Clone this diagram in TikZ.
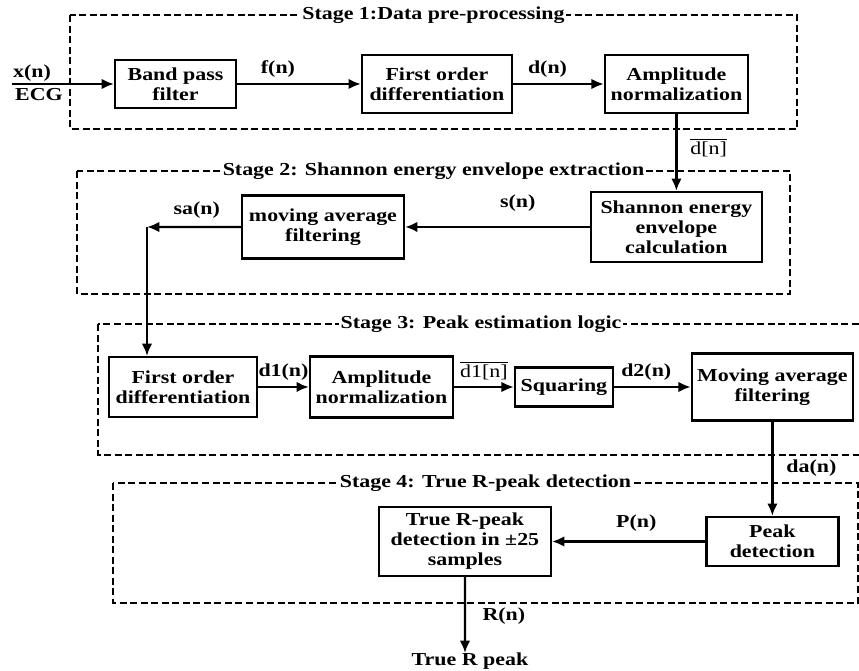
\documentclass[tikz,border=0pt]{standalone}
\usepackage{amsmath}
\usepackage{fontspec}
\setmainfont{Liberation Serif}[FakeStretch=1.2]
\usepackage{tikz}
\usetikzlibrary{arrows.meta,positioning}

\begin{document}
\begin{tikzpicture}[x=0.02cm,y=-0.02cm,>={Latex[length=7pt,width=6pt]},line width=1.3pt,on grid,
  every node/.style={font=\fontsize{10.4}{11.4}\selectfont\bfseries},
  block/.style={draw,align=center,inner sep=1pt},
  stage/.style={line width=1pt,dash pattern=on 4pt off 2pt},
  stagelbl/.style={fill=white,inner sep=1pt}]
  \useasboundingbox (0,0) rectangle (859,671);

  \draw[stage] (70,15) rectangle (797,129);
  \draw[stage] (77,171) rectangle (790,294);
  \draw[stage] (98,324) rectangle (864,455);
  \draw[stage] (113,483) rectangle (858,603);
  \node[stagelbl] (s1) at (433.5,15)  {Stage 1:Data pre-processing};
  \node[stagelbl] (s2) at (433.5,171) {Stage 2: Shannon energy envelope extraction};
  \node[stagelbl] (s3) at (481,324)   {Stage 3: Peak estimation logic};
  \node[stagelbl] (s4) at (485.5,483) {Stage 4: True R-peak detection};

  \node[block,minimum width=2.42cm,minimum height=0.96cm] (bpf) at (175.5,84) {Band pass\\filter};
  \node[block,minimum width=3.0cm,minimum height=1.16cm]  (fod1) [right=5.23cm of bpf]  {First order\\differentiation};
  \node[block,minimum width=2.86cm,minimum height=1.16cm] (an1)  [right=4.79cm of fod1] {Amplitude\\normalization};
  \node[block,minimum width=3.42cm,minimum height=1.4cm]  (sec)  [below=2.86cm of an1]  {Shannon energy\\envelope\\calculation};
  \node[block,minimum width=3.24cm,minimum height=1.26cm] (maf1) [left=7.07cm of sec]   {moving average\\filtering};
  \node[block,minimum width=2.96cm,minimum height=1.2cm]  (fod2) at (183,387)           {First order\\differentiation};
  \node[block,minimum width=2.86cm,minimum height=1.22cm] (an2)  [right=3.97cm of fod2] {Amplitude\\normalization};
  \node[block,minimum width=1.96cm,minimum height=0.78cm] (sq)   [right=3.65cm of an2]  {Squaring};
  \node[block,minimum width=3.22cm,minimum height=1.34cm] (maf2) [right=4.17cm of sq]   {Moving average\\filtering};
  \node[block,minimum width=2.64cm,minimum height=0.98cm] (pd)   [below=3.09cm of maf2] {Peak\\detection};
  \node[block,minimum width=3.44cm,minimum height=1.38cm] (trp)  [left=6.15cm of pd]    {True R-peak\\detection in ±25\\samples};

  \coordinate (in) at (12,84);
  \coordinate (c1) at (147,227);
  \coordinate (out) at (465,653);
  \node (xn)   at (32,73)  {x(n)};
  \node (ecg)  at (39,95)  {ECG};
  \node (trpk) at (470,661) {True R peak};

  \draw[->] (in) -- (bpf);
  \draw[->] (bpf) -- node[above,pos=0.33] (fn) {f(n)} (fod1);
  \draw[->] (fod1) -- node[above,pos=0.38] (dn) {d(n)} (an1);
  \draw[->] (an1) -- node[right,pos=0.44,xshift=4pt] (dbar) {$\overline{\mbox{\mdseries d[n]}}$} (sec);
  \draw[->] (sec) -- node[above,pos=0.39,yshift=5pt] (sn) {s(n)} (maf1);
  \draw[->] (maf1) -- node[above,pos=0.47,yshift=1pt] (san) {sa(n)} (c1);
  \draw[->] (c1) -- (c1 |- fod2.north);
  \draw[->] (fod2) -- node[above] (d1n) {d1(n)} (an2);
  \draw[->] (an2) -- node[above] (d1bar) {$\overline{\mbox{\mdseries d1[n]}}$} (sq);
  \draw[->] (sq) -- node[above,pos=0.42] (d2n) {d2(n)} (maf2);
  \draw[->] (maf2) -- node[right,pos=0.49,xshift=4pt] (dan) {da(n)} (pd);
  \draw[->] (pd) -- node[above,pos=0.45,yshift=2pt] (pn) {P(n)} (trp);
  \draw[->] (trp) -- node[right,pos=0.52,xshift=6pt] (rn) {R(n)} (out);
\end{tikzpicture}
\end{document}
